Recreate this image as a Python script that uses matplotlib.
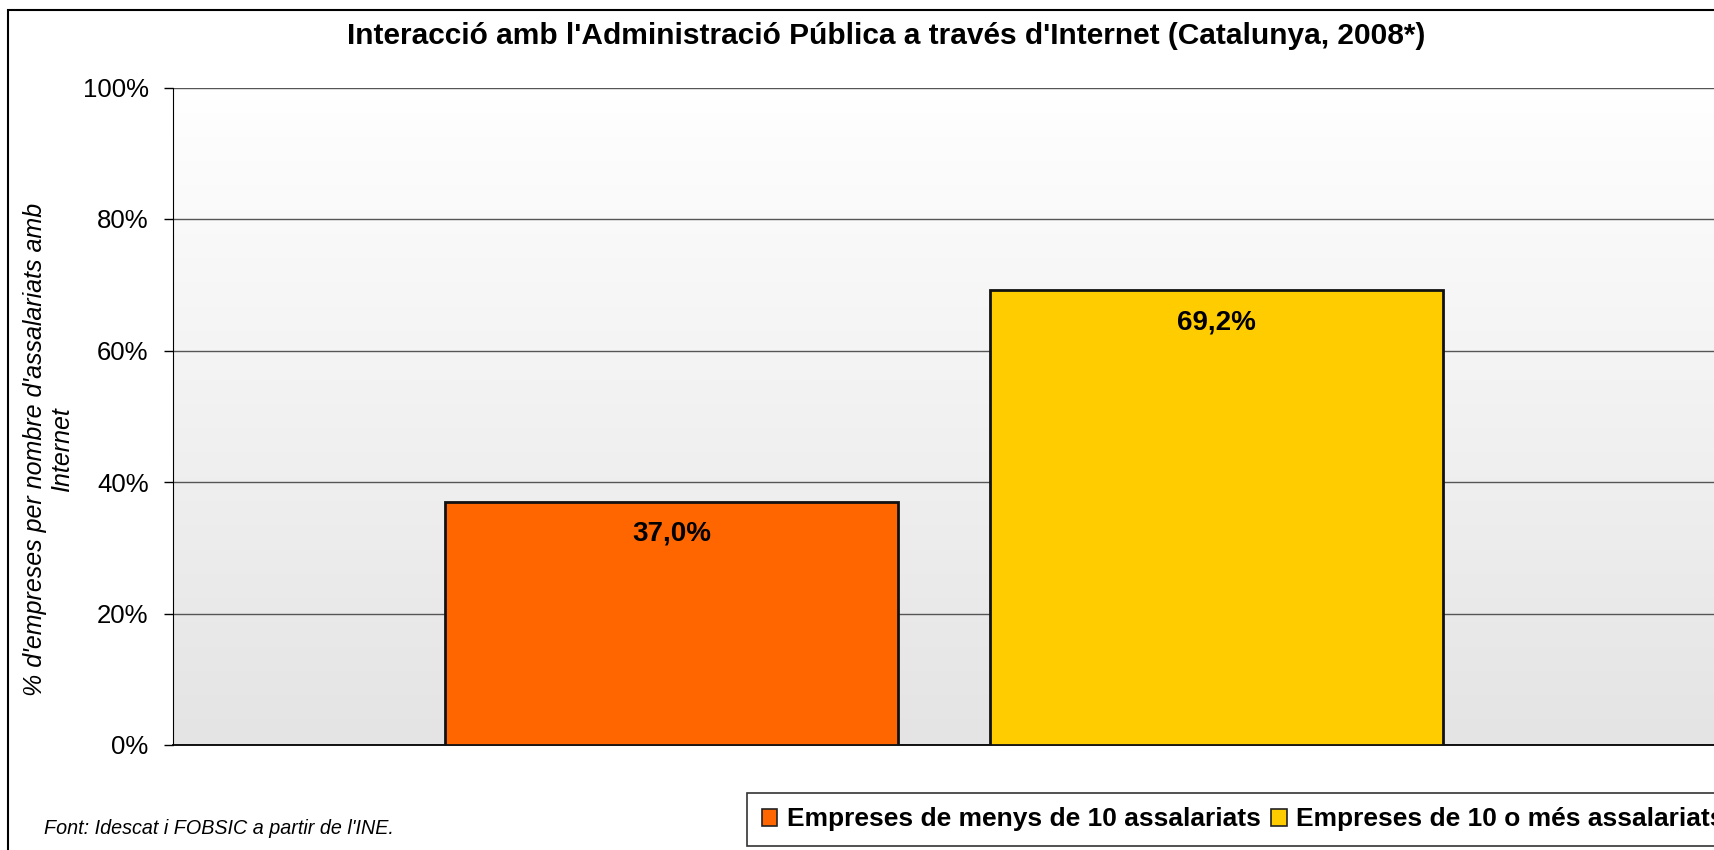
import numpy as np
import matplotlib
matplotlib.use("Agg")
import matplotlib.pyplot as plt
from matplotlib.patches import Patch, Rectangle
from matplotlib.colors import LinearSegmentedColormap

# ---- data ----
series = ["Empreses de menys de 10 assalariats", "Empreses de 10 o més assalariats"]
values = [37.0, 69.2]
colors = ["#FF6600", "#FFCC00"]
yticks = [0, 20, 40, 60, 80, 100]
title = "Interacció amb l'Administració Pública a través d'Internet (Catalunya, 2008*)"
ylabel = "% d'empreses per nombre d'assalariats amb\nInternet"
source = "Font: Idescat i FOBSIC a partir de l'INE."

plt.rcParams['font.family'] = ['Liberation Sans', 'DejaVu Sans']

W, H = 1715, 850
fig = plt.figure(figsize=(W / 100, H / 100), dpi=100)
fig.patch.set_facecolor("white")

left_px, top_px, bottom_px = 173, 87.5, 745
ax = fig.add_axes([left_px / W, 1 - bottom_px / H, 1 - left_px / W, (bottom_px - top_px) / H])

# gradient background
cmap = LinearSegmentedColormap.from_list("bg", ["#E4E4E4", "#FFFFFF"])
ax.imshow(np.linspace(0, 1, 256).reshape(-1, 1), extent=[0, 1, 0, 1], transform=ax.transAxes,
          cmap=cmap, aspect="auto", origin="lower", zorder=0)
ax.set_facecolor("white")

offsets = [-0.5, 0.5]
width = 0.832
for off, v, c in zip(offsets, values, colors):
    ax.bar(off, v, width, color=c, edgecolor="#111111", linewidth=2.0, zorder=3)
    ax.annotate(f"{v:.1f}%".replace(".", ","), xy=(off, v), xytext=(0, -32),
                textcoords="offset pixels", ha="center", va="center",
                fontsize=20, fontweight="bold", color="black", zorder=4)

ax.set_xlim(-1.415, 1.415)
ax.set_ylim(0, 100)
ax.set_yticks(yticks)
ax.set_yticklabels([f"{t}%" for t in yticks])
ax.set_xticks([])
ax.yaxis.grid(True, color="#555555", linewidth=1.0, zorder=1)
ax.set_axisbelow(True)
ax.tick_params(axis="y", direction="out", length=6.5, width=1, pad=11, labelsize=18.5, colors="black")
for s in ["top", "right"]:
    ax.spines[s].set_visible(False)
ax.spines["left"].set_color("black")
ax.spines["bottom"].set_color("black")
ax.spines["bottom"].set_linewidth(1.3)

ax.set_ylabel(ylabel, fontsize=18, fontstyle="italic", linespacing=1.15)
ax.yaxis.set_label_coords(-0.0642, 0.449)

fig.text(886.5 / W, 1 - 36 / H, title, ha="center", va="center", fontsize=21.5, fontweight="bold")
fig.text(44 / W, 1 - 829 / H, source, ha="left", va="center", fontsize=14.2, fontstyle="italic")

handles = [Patch(facecolor=c, edgecolor="#222222", linewidth=1.2) for c in colors]
leg = fig.legend(handles, series, loc="lower left", bbox_to_anchor=(747 / W, 1 - 846 / H),
                 ncol=2, frameon=True, fancybox=False, edgecolor="black",
                 prop={"weight": "bold", "size": 19}, handlelength=0.6, handleheight=0.6,
                 handletextpad=0.35, columnspacing=0.4, borderpad=0.55, borderaxespad=0)
leg.get_frame().set_linewidth(1.2)

fig.patches.append(Rectangle((8 / W, -0.5), 2, 1 - 10 / H + 0.5, transform=fig.transFigure,
                             fill=False, edgecolor="black", linewidth=1.5, zorder=10))

fig.savefig("out.png", dpi=100)
